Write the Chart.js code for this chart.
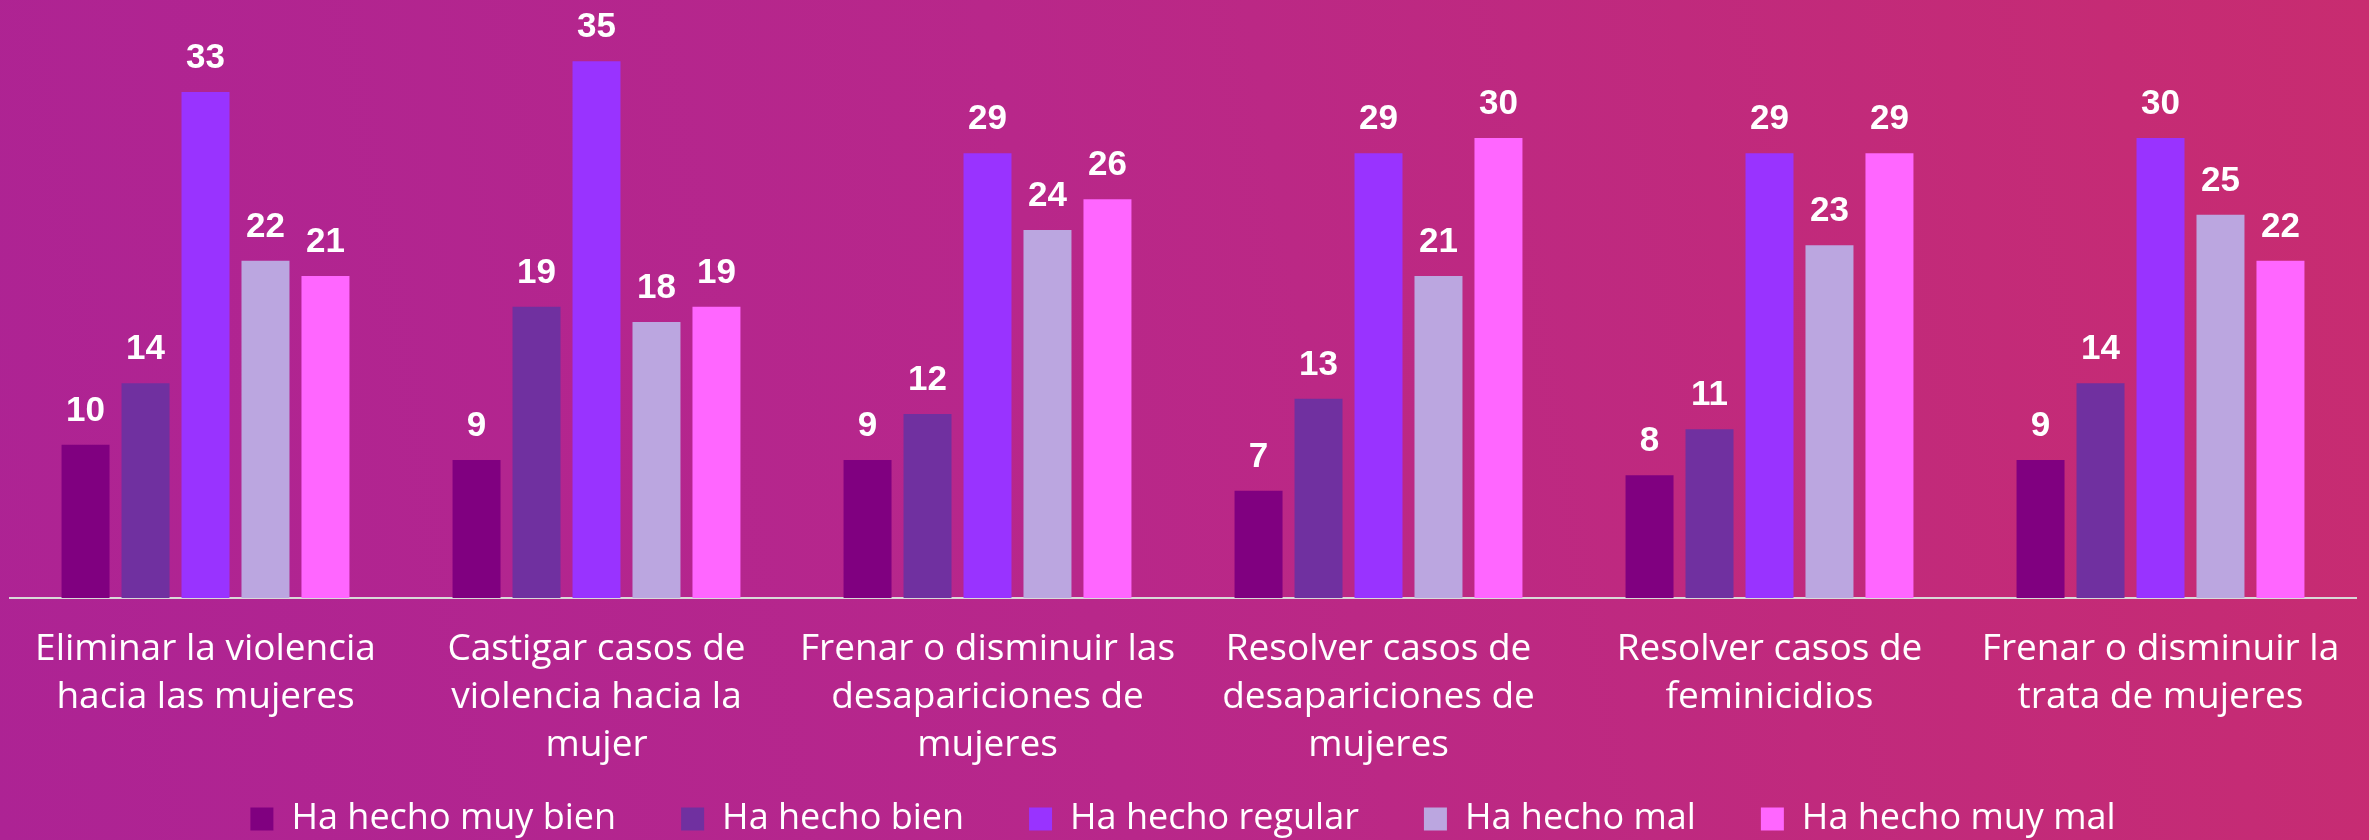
<!DOCTYPE html>
<html>
<head>
<meta charset="utf-8">
<script src="https://cdn.jsdelivr.net/npm/chart.js@4.4.1/dist/chart.umd.min.js"></script>
<style>
  html, body { margin: 0; padding: 0; }
  body {
    width: 2369px; height: 840px; overflow: hidden;
    background: linear-gradient(80deg, #AD2394 0%, #B8278A 45%, #C82C70 100%);
  }
  canvas { display: block; }
</style>
</head>
<body>
<canvas id="chart" width="2369" height="840"></canvas>
<script>
// categorias (eje x)
const categorias = [
  ["Eliminar la violencia", "hacia las mujeres"],
  ["Castigar casos de", "violencia hacia la", "mujer"],
  ["Frenar o disminuir las", "desapariciones de", "mujeres"],
  ["Resolver casos de", "desapariciones de", "mujeres"],
  ["Resolver casos de", "feminicidios"],
  ["Frenar o disminuir la", "trata de mujeres"]
];

// series
const muyBien  = [10, 9, 9, 7, 8, 9];
const bien     = [14, 19, 12, 13, 11, 14];
const regular  = [33, 35, 29, 29, 29, 30];
const mal      = [22, 18, 24, 21, 23, 25];
const muyMal   = [21, 19, 26, 30, 29, 22];

const nombres = ["Ha hecho muy bien", "Ha hecho bien", "Ha hecho regular", "Ha hecho mal", "Ha hecho muy mal"];
const colores = ["#800080", "#7030A0", "#9933FF", "#BBA6E0", "#FF66FF"];
const series  = [muyBien, bien, regular, mal, muyMal];

Chart.defaults.font.family = "'Open Sans', 'Liberation Sans', sans-serif";
Chart.defaults.color = "#FFFFFF";

// etiquetas encima de cada barra
const etiquetas = {
  id: 'etiquetas',
  afterDatasetsDraw(chart) {
    const ctx = chart.ctx;
    ctx.save();
    ctx.fillStyle = '#FFFFFF';
    ctx.font = "bold 35px 'Liberation Sans', Arial, sans-serif";
    ctx.textAlign = 'center';
    ctx.textBaseline = 'alphabetic';
    chart.data.datasets.forEach((ds, i) => {
      const meta = chart.getDatasetMeta(i);
      meta.data.forEach((bar, j) => {
        ctx.fillText(ds.data[j], bar.x, bar.y - 24);
      });
    });
    ctx.restore();
  }
};

// la leyenda usa el mismo padding en horizontal y vertical:
// se fija su altura y se baja a mano
const LEYENDA_PAD = 65;
const leyendaFija = {
  id: 'leyendaFija',
  afterInit(chart) {
    const legend = chart.legend;
    const fit = legend.fit;
    legend.fit = function () {
      fit.call(this);
      this.height = 67;
    };
  },
  afterLayout(chart) {
    chart.legend.top = 801 - LEYENDA_PAD;
  }
};

const ctx = document.getElementById('chart').getContext('2d');
new Chart(ctx, {
  type: 'bar',
  data: {
    labels: categorias,
    datasets: series.map((s, i) => ({
      label: nombres[i],
      data: s,
      backgroundColor: colores[i],
      borderWidth: 0,
      categoryPercentage: 0.767,
      barPercentage: 0.8
    }))
  },
  options: {
    responsive: false,
    animation: false,
    devicePixelRatio: 1,
    layout: { padding: { left: 10, right: 13, top: 0, bottom: 0 } },
    plugins: {
      legend: {
        position: 'bottom',
        labels: {
          boxWidth: 23,
          boxHeight: 23,
          padding: LEYENDA_PAD,
          color: '#FFFFFF',
          font: { size: 36 }
        }
      },
      tooltip: { enabled: false }
    },
    scales: {
      x: {
        grid: { display: false },
        border: { display: true, color: '#D9D9D9', width: 2 },
        ticks: {
          color: '#FFFFFF',
          font: { size: 37, lineHeight: '48px' },
          padding: 19,
          maxRotation: 0,
          autoSkip: false
        },
        afterFit(scale) { scale.height = 175; }
      },
      y: {
        display: false,
        min: 0,
        max: 39
      }
    }
  },
  plugins: [etiquetas, leyendaFija]
});
</script>
</body>
</html>
